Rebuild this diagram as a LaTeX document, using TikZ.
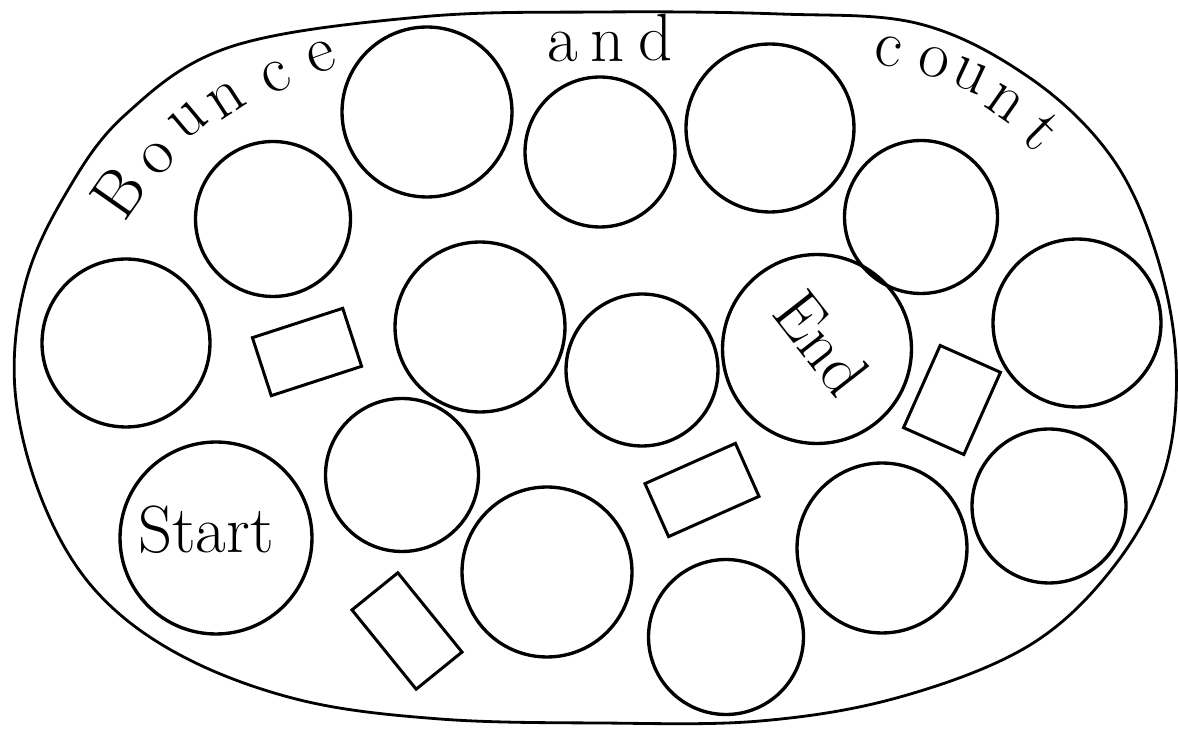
\documentclass[tikz,border=0pt]{standalone}
\usepackage{tikz}

\begin{document}
\begin{tikzpicture}[x=0.02cm,y=-0.02cm,
  spot/.style={circle,draw,line width=1.9pt,inner sep=0pt},
  tile/.style={rectangle,draw,line width=1.7pt,inner sep=0pt},
  letter/.style={inner sep=0pt,font=\fontsize{38}{38}\selectfont},
  word/.style={inner sep=0pt,font=\fontsize{38}{38}\selectfont}]
% Bounce and count board
\useasboundingbox (0,0) rectangle (1178,729);

\draw[line width=1.6pt] plot[smooth cycle,tension=0.6] coordinates {(420,17) (600,12) (780,14)
  (920,24) (1030,78) (1110,155) (1155,250) (1176,360) (1165,470) (1115,565) (1030,645)
  (900,697) (760,721) (600,723) (440,719) (300,700) (180,655) (95,590) (42,500) (15,390)
  (25,285) (65,195) (125,115) (230,47)};

\node[spot,minimum size=3.40cm] (c1) at (427,112) {};
\node[spot,minimum size=3.10cm] (c2) at (273,219) {};
\node[spot,minimum size=3.36cm] (c3) at (126,343) {};
\node[spot,minimum size=3.00cm] (c4) at (600,152) {};
\node[spot,minimum size=3.36cm] (c5) at (770,128) {};
\node[spot,minimum size=3.06cm] (c6) at (921,217) {};
\node[spot,minimum size=3.36cm] (c7) at (1077,323) {};
\node[spot,minimum size=3.40cm] (c8) at (480,327) {};
\node[spot,minimum size=3.04cm] (c9) at (642,370) {};
\node[spot,minimum size=3.78cm] (end) at (817,349) {};
\node[spot,minimum size=3.06cm] (c11) at (402,475) {};
\node[spot,minimum size=3.84cm] (start) at (216,538) {};
\node[spot,minimum size=3.40cm] (c13) at (547,572) {};
\node[spot,minimum size=3.10cm] (c14) at (726,637) {};
\node[spot,minimum size=3.40cm] (c15) at (882,548) {};
\node[spot,minimum size=3.08cm] (c16) at (1049,506) {};

\node[tile,minimum width=1.90cm,minimum height=1.22cm,rotate=18] (t1) at (307,352) {};
\node[tile,minimum width=1.32cm,minimum height=1.80cm,rotate=-24] (t2) at (952,400) {};
\node[tile,minimum width=1.98cm,minimum height=1.16cm,rotate=24] (t3) at (702,490) {};
\node[tile,minimum width=1.18cm,minimum height=2.04cm,rotate=39] (t4) at (407,631) {};

% title round the top
\node[letter,rotate=55] (b1) at (118,193) {B};
\node[letter,rotate=45] (b2) at (158,158) {o};
\node[letter,rotate=40] (b3) at (188,121) {u};
\node[letter,rotate=33] (b4) at (227,100) {n};
\node[letter,rotate=27] (b5) at (276,77) {c};
\node[letter,rotate=20] (b6) at (321,57) {e};

\node[letter] (a1) at (563,47) {a};
\node[letter] (a2) at (608,47) {n};
\node[letter] (a3) at (656,38) {d};

\node[letter,rotate=-10] (k1) at (888,52) {c};
\node[letter,rotate=-15] (k2) at (934,62) {o};
\node[letter,rotate=-25] (k3) at (970,76) {u};
\node[letter,rotate=-35] (k4) at (1005,103) {n};
\node[letter,rotate=-45] (k5) at (1042,132) {t};

\node[word] (starttext) at (206,530) {Start};
\node[word,rotate=-52] (endtext) at (822,343) {End};
\end{tikzpicture}
\end{document}
